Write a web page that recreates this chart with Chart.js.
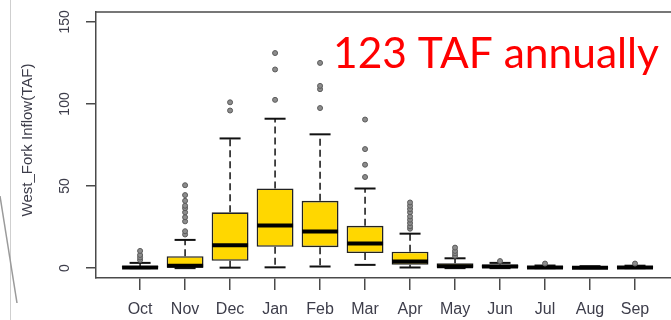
<!DOCTYPE html>
<html>
<head>
<meta charset="utf-8">
<script src="https://cdn.jsdelivr.net/npm/chart.js@4.4.1/dist/chart.umd.min.js"></script>
<style>
  html, body { margin: 0; padding: 0; background: #fff; overflow: hidden; }
  #wrap { position: relative; width: 671px; height: 320px; }
  canvas { display: block; }
</style>
</head>
<body>
<div id="wrap"><canvas id="c" width="671" height="320"></canvas></div>
<script>
// Monthly West Fork inflow (TAF): box-and-whisker summary per month
const months      = ['Oct','Nov','Dec','Jan','Feb','Mar','Apr','May','Jun','Jul','Aug','Sep'];
const whiskerLow  = [0,   0,   0.3, 0.5, 1,    2,    0.4, 0,   0,   0,   0,   0];
const quartile1   = [0,   0.2, 4.5, 13,  12.8, 9.2,  2,   0.3, 0.3, 0,   0,   0];
const medians     = [0.4, 1.5, 14,  26,  22.3, 15,   4,   1.2, 1.0, 0.4, 0.3, 0.4];
const quartile3   = [1.2, 7.3, 34,  48.5, 41,  25.8, 10,  3,   2.2, 1,   0.8, 1];
const whiskerHigh = [3.2, 17.2, 79, 91,  81.5, 48.5, 21,  6,   3.2, 1.6, 1.2, 1.5];
const outliers = [
  [5, 6.5, 8, 10.5],
  [20.5, 22.5, 28.5, 31, 34, 36.5, 38, 41, 44.5, 50.5],
  [96, 101],
  [102.5, 121, 131],
  [97.5, 109, 111, 125],
  [55.5, 63, 72.5, 90.5],
  [24, 25.5, 27.5, 29.5, 31.5, 34, 36, 38, 40],
  [7.5, 9, 10.5, 12.5],
  [4.3],
  [2.8],
  [],
  [2.8]
];
const yTicks = [0, 50, 100, 150];
const yTitle = 'West_Fork Inflow(TAF)';
const note = '123 TAF annually';

const pos = months.map((m, i) => i + 1);

const boxData = pos.map((x, i) => ({ x, y: [quartile1[i], quartile3[i]] }));
const medianData = pos.map((x, i) => ({ x, y: medians[i] }));
const capData = [];
pos.forEach((x, i) => { capData.push({ x, y: whiskerHigh[i] }, { x, y: whiskerLow[i] }); });
const whiskerData = [];
pos.forEach((x, i) => {
  whiskerData.push({ x, y: quartile3[i] }, { x, y: whiskerHigh[i] }, { x, y: null });
  whiskerData.push({ x, y: quartile1[i] }, { x, y: whiskerLow[i] }, { x, y: null });
});
const outlierData = [];
outliers.forEach((list, i) => list.forEach(v => outlierData.push({ x: pos[i], y: v })));

const axisColor = '#4a4a4a';
const textColor = '#3d3d4a';

// Frame top edge, rotated y labels, slide decoration lines and the red note
const decorations = {
  id: 'decorations',
  afterDraw(chart) {
    const { ctx, chartArea: a, scales } = chart;
    ctx.save();
    // top edge of plot frame
    ctx.strokeStyle = axisColor;
    ctx.lineWidth = 1.5;
    ctx.beginPath();
    ctx.moveTo(a.left, a.top);
    ctx.lineTo(a.right, a.top);
    ctx.stroke();

    // rotated y tick labels
    ctx.fillStyle = textColor;
    ctx.font = '14px "Liberation Sans", Arial, sans-serif';
    ctx.textAlign = 'center';
    ctx.textBaseline = 'middle';
    yTicks.forEach(v => {
      const y = scales.y.getPixelForValue(v);
      ctx.save();
      ctx.translate(65, y);
      ctx.rotate(-Math.PI / 2);
      ctx.fillText(String(v), 0, 0);
      ctx.restore();
    });

    // y axis title
    ctx.font = '15px "Liberation Sans", Arial, sans-serif';
    ctx.save();
    ctx.translate(28, (a.top + a.bottom) / 2 - 5);
    ctx.rotate(-Math.PI / 2);
    ctx.fillText(yTitle, 0, 0);
    ctx.restore();

    // slide decoration lines at left
    ctx.strokeStyle = '#cfcfcf';
    ctx.lineWidth = 1;
    ctx.beginPath();
    ctx.moveTo(10.5, 0);
    ctx.lineTo(10.5, 320);
    ctx.stroke();
    ctx.strokeStyle = '#9a9a9a';
    ctx.lineWidth = 1.5;
    ctx.beginPath();
    ctx.moveTo(0, 196);
    ctx.lineTo(17, 303);
    ctx.stroke();

    // annual note
    ctx.fillStyle = '#ff0000';
    ctx.textAlign = 'left';
    ctx.textBaseline = 'alphabetic';
    let size = 43;
    ctx.font = size + 'px Lato, "Open Sans", sans-serif';
    const w = ctx.measureText(note).width;
    size = size * 326 / w;
    ctx.font = size.toFixed(2) + 'px Lato, "Open Sans", sans-serif';
    ctx.fillText(note, 333, 68);
    ctx.restore();
  }
};

new Chart(document.getElementById('c'), {
  type: 'bar',
  data: {
    datasets: [
      {
        type: 'scatter',
        data: outlierData,
        pointStyle: 'circle',
        pointRadius: 2.5,
        pointBackgroundColor: '#8c8c8c',
        pointBorderColor: '#5a5a5a',
        pointBorderWidth: 1,
        order: 0
      },
      {
        type: 'scatter',
        data: medianData,
        pointStyle: 'line',
        pointRadius: 18,
        pointBorderColor: '#000',
        pointBorderWidth: 4,
        order: 1
      },
      {
        type: 'scatter',
        data: capData,
        pointStyle: 'line',
        pointRadius: 10.5,
        pointBorderColor: '#111',
        pointBorderWidth: 2,
        order: 2
      },
      {
        type: 'bar',
        data: boxData,
        backgroundColor: '#ffd700',
        borderColor: '#222',
        borderWidth: 1.6,
        borderSkipped: false,
        barPercentage: 1,
        categoryPercentage: 0.82,
        order: 3
      },
      {
        type: 'line',
        data: whiskerData,
        borderColor: '#111',
        borderWidth: 1.5,
        borderDash: [7, 4],
        pointRadius: 0,
        spanGaps: false,
        fill: false,
        order: 4
      }
    ]
  },
  options: {
    responsive: false,
    animation: false,
    devicePixelRatio: 1,
    events: [],
    layout: { autoPadding: false, padding: { top: 12, left: 0, right: 0, bottom: 0 } },
    plugins: { legend: { display: false }, tooltip: { enabled: false } },
    scales: {
      x: {
        type: 'linear',
        offset: false,
        min: 0.02,
        max: 12.8,
        afterBuildTicks(scale) { scale.ticks = pos.map(v => ({ value: v })); },
        afterFit(scale) {
          scale.height = 42;
          scale.paddingLeft = 0;
          scale.paddingRight = 0;
        },
        grid: { offset: false, drawOnChartArea: false, drawTicks: true, tickLength: 12, color: axisColor, lineWidth: 1.5 },
        border: { display: true, color: axisColor, width: 1.5 },
        ticks: {
          autoSkip: false,
          maxRotation: 0,
          padding: 10,
          color: textColor,
          font: { family: '"Liberation Sans", Arial, sans-serif', size: 16 },
          callback: v => months[v - 1]
        }
      },
      y: {
        type: 'linear',
        min: -6,
        max: 156,
        afterBuildTicks(scale) { scale.ticks = yTicks.map(v => ({ value: v })); },
        afterFit(scale) {
          scale.width = 96;
          scale.paddingTop = 0;
          scale.paddingBottom = 0;
        },
        grid: { drawOnChartArea: false, drawTicks: true, tickLength: 10, color: axisColor, lineWidth: 1.5 },
        border: { display: true, color: axisColor, width: 1.5 },
        ticks: { display: false }
      }
    }
  },
  plugins: [decorations]
});
</script>
</body>
</html>
